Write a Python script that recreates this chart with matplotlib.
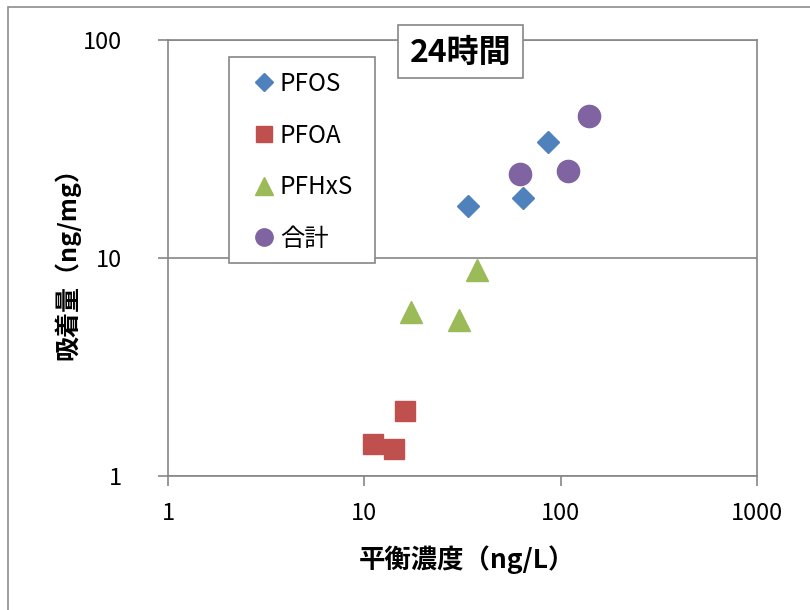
import matplotlib.pyplot as plt
from matplotlib.patches import Rectangle

plt.rcParams['font.family'] = ['Noto Sans CJK JP', 'DejaVu Sans']

# data (log-log)
pfos_x = [33.7, 64.3, 86.3]
pfos_y = [17.3, 18.8, 34.0]
pfoa_x = [11.1, 14.2, 16.1]
pfoa_y = [1.40, 1.33, 1.99]
pfhxs_x = [17.2, 30.3, 37.4]
pfhxs_y = [5.67, 5.2, 8.81]
total_x = [62.4, 108.7, 139.6]
total_y = [24.2, 25.1, 44.7]

x_ticks = [1, 10, 100, 1000]
y_ticks = [1, 10, 100]

W, H = 810, 610
# plot area in pixels
L, R, T, B = 168, 757, 40, 476


def ax_xy(px, py):
    # pixel position -> axes fraction
    return (px - L) / (R - L), (B - py) / (B - T)


fig = plt.figure(figsize=(W / 100, H / 100), dpi=100)
# outer chart border (only left/top visible in the reference)
fig.patches.append(Rectangle((8 / W, -0.1), 1.2, 1 - 7 / H + 0.1, transform=fig.transFigure,
                             fill=False, edgecolor='#8c8c8c', linewidth=1.2))

ax = fig.add_axes([L / W, 1 - B / H, (R - L) / W, (B - T) / H])
ax.set_xscale('log')
ax.set_yscale('log')
ax.set_xlim(1, 1000)
ax.set_ylim(1, 100)

gray = '#868686'
for s in ax.spines.values():
    s.set_color(gray)
    s.set_linewidth(1.2)
ax.yaxis.grid(True, which='major', color=gray, linewidth=1.2)
ax.set_axisbelow(True)
ax.minorticks_off()
ax.set_xticks(x_ticks)
ax.set_xticklabels([str(v) for v in x_ticks])
ax.set_yticks(y_ticks)
ax.set_yticklabels([str(v) for v in y_ticks])
ax.tick_params(axis='both', which='major', direction='out', length=7, width=1.2,
               color=gray, labelsize=17)
ax.tick_params(axis='x', pad=12)
ax.tick_params(axis='y', pad=26)

ax.plot(pfos_x, pfos_y, linestyle='none', marker='D', markersize=11.5,
        color='#4F81BD', label='PFOS')
ax.plot(pfoa_x, pfoa_y, linestyle='none', marker='s', markersize=15,
        color='#C0504D', label='PFOA')
ax.plot(pfhxs_x, pfhxs_y, linestyle='none', marker='^', markersize=16,
        color='#9BBB59', label='PFHxS')
ax.plot(total_x, total_y, linestyle='none', marker='o', markersize=16,
        color='#8064A2', label='合計')

# legend box
x0, y0 = ax_xy(229, 263)
x1, y1 = ax_xy(375, 57)
ax.add_patch(Rectangle((x0, y0), x1 - x0, y1 - y0, transform=ax.transAxes, clip_on=False,
                       facecolor='white', edgecolor=gray, linewidth=1.2, zorder=4))
leg = ax.legend(loc='upper left', bbox_to_anchor=ax_xy(254, 71),
                fontsize=17.5, frameon=False, borderpad=0,
                labelspacing=1.05, handlelength=0.8, handletextpad=0.26,
                borderaxespad=0, markerscale=0.78)
leg.set_zorder(5)

# title box
x0, y0 = ax_xy(398, 78)
x1, y1 = ax_xy(523, 25)
ax.add_patch(Rectangle((x0, y0), x1 - x0, y1 - y0, transform=ax.transAxes, clip_on=False,
                       facecolor='white', edgecolor=gray, linewidth=1.2, zorder=4))
ax.text(*ax_xy(460.5, 53), '24時間', transform=ax.transAxes, zorder=6,
        ha='center', va='center', fontsize=23, fontweight='bold')

ax.set_xlabel('平衡濃度（ng/L）', fontsize=19, fontweight='bold', labelpad=14)
ax.xaxis.label.set_x(ax_xy(467, 0)[0])
ax.set_ylabel('吸着量（ng/mg）', fontsize=18, fontweight='bold', labelpad=2)

fig.savefig('out.png', dpi=100)
